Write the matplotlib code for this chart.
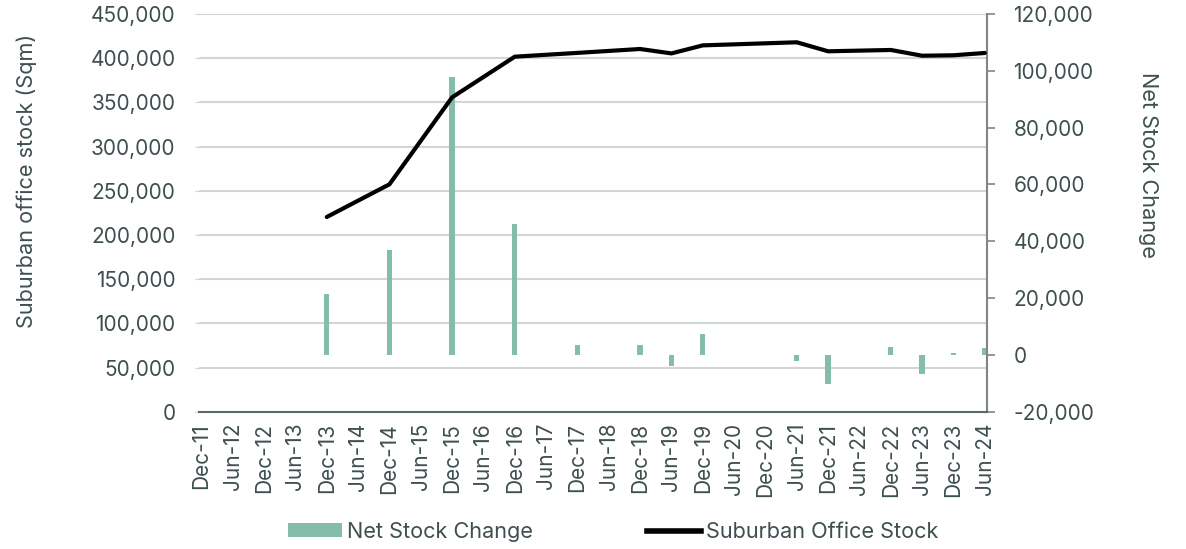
import numpy as np
import matplotlib
matplotlib.use("Agg")
import matplotlib.pyplot as plt
from matplotlib.ticker import FuncFormatter, FixedLocator
from matplotlib.patches import Patch
from matplotlib.lines import Line2D

periods = ["Dec-11", "Jun-12", "Dec-12", "Jun-13", "Dec-13", "Jun-14", "Dec-14",
           "Jun-15", "Dec-15", "Jun-16", "Dec-16", "Jun-17", "Dec-17", "Jun-18",
           "Dec-18", "Jun-19", "Dec-19", "Jun-20", "Dec-20", "Jun-21", "Dec-21",
           "Jun-22", "Dec-22", "Jun-23", "Dec-23", "Jun-24"]

suburban_stock = [None, None, None, None, 220300, None, 257300,
                  None, 355700, None, 401700, None, 406000, None,
                  410400, 405400, 414500, None, None, 418000, 407800,
                  None, 409300, 402800, 403300, 405900]

net_change = [None, None, None, None, 21300, None, 36800,
              None, 97900, None, 46200, None, 3500, None,
              3500, -3800, 7500, None, None, -2250, -10100,
              None, 2900, -6700, 700, 2300]

left_ticks = [0, 50000, 100000, 150000, 200000, 250000, 300000, 350000, 400000, 450000]
right_ticks = [-20000, 0, 20000, 40000, 60000, 80000, 100000, 120000]

TEXT = "#3f4f50"
GRID = "#d0d6d7"
BAR = "#85bdad"
FONT = ["Inter", "DejaVu Sans"]
plt.rcParams["font.family"] = FONT

fig = plt.figure(figsize=(11.86, 5.49), dpi=100)
ax = fig.add_axes([0.1678, 0.2501, 0.6644, 0.7244])
ax2 = ax.twinx()

x = np.arange(len(periods))

lx = [i for i, v in enumerate(suburban_stock) if v is not None]
ly = [v for v in suburban_stock if v is not None]
bx = [i for i, v in enumerate(net_change) if v is not None]
by = [v for v in net_change if v is not None]

ax2.bar(bx, by, width=0.17, color=BAR, zorder=2)
ax2.set_zorder(1)
ax.set_zorder(2)
ax.patch.set_visible(False)
ax.plot(lx, ly, color="black", lw=3.0, solid_capstyle="round", solid_joinstyle="miter", zorder=3)

ax.set_xlim(-0.077, 25.07)
ax.set_ylim(0, 450000)
ax2.set_ylim(-20000, 120000)

fmt = FuncFormatter(lambda v, p: f"{int(v):,}")
ax.yaxis.set_major_locator(FixedLocator(left_ticks))
ax.yaxis.set_major_formatter(fmt)
ax2.yaxis.set_major_locator(FixedLocator(right_ticks))
ax2.yaxis.set_major_formatter(fmt)

# gridlines at the left-axis ticks, drawn behind the bars
for t in left_ticks[1:]:
    ax2.axhline(ax2.get_ylim()[0] + (t / 450000) * 140000, color=GRID, lw=1.5, zorder=0)

ax.set_xticks(x)
ax.set_xticklabels(periods, rotation=90, fontsize=15, color=TEXT)
ax.tick_params(axis="x", length=0, pad=8)
ax.tick_params(axis="y", length=3, color=GRID, labelsize=15, labelcolor=TEXT, pad=14)
ax2.tick_params(axis="y", length=6, width=1.2, color="#808585", labelsize=15, labelcolor=TEXT, pad=13)

for sp in ["top", "left", "right"]:
    ax.spines[sp].set_visible(False)
for sp in ["top", "left", "bottom"]:
    ax2.spines[sp].set_visible(False)
ax.spines["bottom"].set_color("#5b6868")
ax.spines["bottom"].set_linewidth(1.5)
ax2.spines["right"].set_color("#808585")
ax2.spines["right"].set_linewidth(1.5)

fig.text(0.0228, 0.6703, "Suburban office stock (Sqm)", rotation=90, ha="center", va="center",
         fontsize=15.6, color=TEXT)
fig.text(0.968, 0.6995, "Net Stock Change", rotation=-90, ha="center", va="center",
         fontsize=15.6, color=TEXT)

handles = [Patch(facecolor=BAR, edgecolor="none"),
           Line2D([0], [0], color="black", lw=4)]
fig.legend(handles, ["Net Stock Change", "Suburban Office Stock"], loc="center",
           bbox_to_anchor=(0.517, 0.031), ncol=2, frameon=False, fontsize=15.6,
           labelcolor=TEXT, handlelength=2.5, handleheight=0.62, handletextpad=0.25,
           columnspacing=5.25)

fig.savefig("out.png", dpi=100)
